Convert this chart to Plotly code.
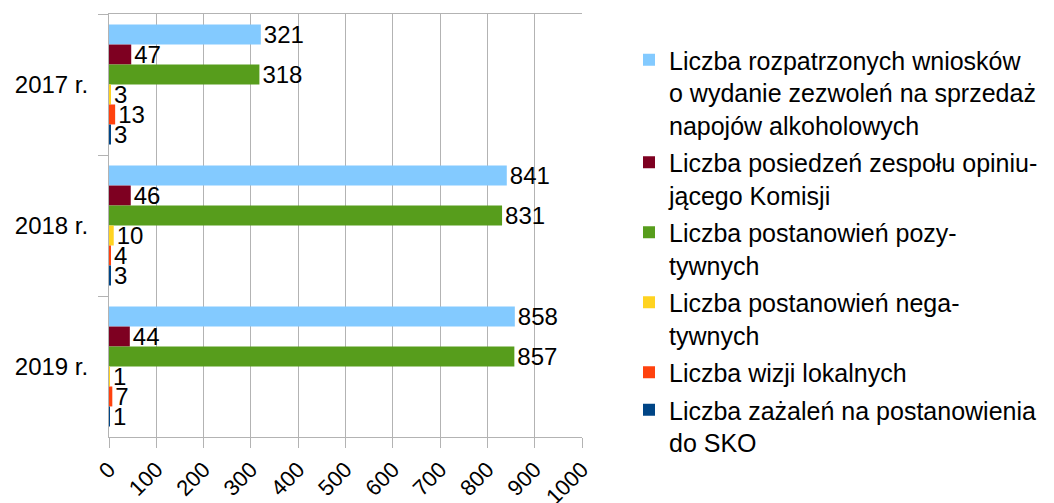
import plotly.graph_objects as go

years = ["2017 r.", "2018 r.", "2019 r."]
series_names = [
    "Liczba rozpatrzonych wniosków<br>o wydanie zezwoleń na sprzedaż<br>napojów alkoholowych",
    "Liczba posiedzeń zespołu opiniu-<br>jącego Komisji",
    "Liczba postanowień pozy-<br>tywnych",
    "Liczba postanowień nega-<br>tywnych",
    "Liczba wizji lokalnych",
    "Liczba zażaleń na postanowienia<br>do SKO",
]
rozpatrzone = [321, 841, 858]
posiedzenia = [47, 46, 44]
pozytywne = [318, 831, 857]
negatywne = [3, 10, 1]
wizje = [13, 4, 7]
zazalenia = [3, 3, 1]
series_values = [rozpatrzone, posiedzenia, pozytywne, negatywne, wizje, zazalenia]
colors = ["#83caff", "#7e0021", "#579d1c", "#ffd320", "#ff420e", "#004586"]

FONT = "Liberation Sans, Arial, sans-serif"
fig = go.Figure()
for i, (name, vals, col) in enumerate(zip(series_names, series_values, colors)):
    fig.add_trace(go.Bar(
        y=years, x=vals, name=name, orientation="h",
        marker=dict(color=col, line=dict(width=0)),
        text=[str(v) for v in vals], textposition="outside",
        textfont=dict(family=FONT, size=24, color="#000000"),
        constraintext="none", cliponaxis=False,
        legendgroup="g%d" % i,
    ))

fig.update_layout(
    width=1054, height=503,
    margin=dict(l=109, r=472, t=14, b=66, autoexpand=False),
    barmode="group", bargap=0.15, bargroupgap=0,
    plot_bgcolor="white", paper_bgcolor="white",
    font=dict(family=FONT, size=24, color="#000000"),
    showlegend=True,
    legend=dict(
        xref="container", yref="container",
        x=629/1054, y=1-37/503, xanchor="left", yanchor="top",
        font=dict(family=FONT, size=25, color="#000000"),
        traceorder="grouped", tracegroupgap=2, valign="top",
        bgcolor="rgba(0,0,0,0)", maxheight=503,
    ),
    xaxis=dict(
        range=[0, 1000], dtick=100, tick0=0,
        showgrid=True, gridcolor="#b3b3b3", gridwidth=1,
        showline=True, linecolor="#b3b3b3", linewidth=1, mirror=True,
        ticks="outside", ticklen=10, tickcolor="#b3b3b3",
        tickangle=-45, tickfont=dict(family=FONT, size=22),
        zeroline=False, automargin=False,
    ),
    yaxis=dict(
        autorange="reversed",
        showgrid=False,
        showline=True, linecolor="#b3b3b3", linewidth=1,
        ticks="outside", ticklen=10, tickcolor="#b3b3b3",
        tickson="boundaries", ticklabelstandoff=15,
        tickfont=dict(family=FONT, size=24),
        automargin=False,
    ),
)

fig.write_html("out.html", config={"displayModeBar": False},
               post_script="document.body.style.margin='0';")
